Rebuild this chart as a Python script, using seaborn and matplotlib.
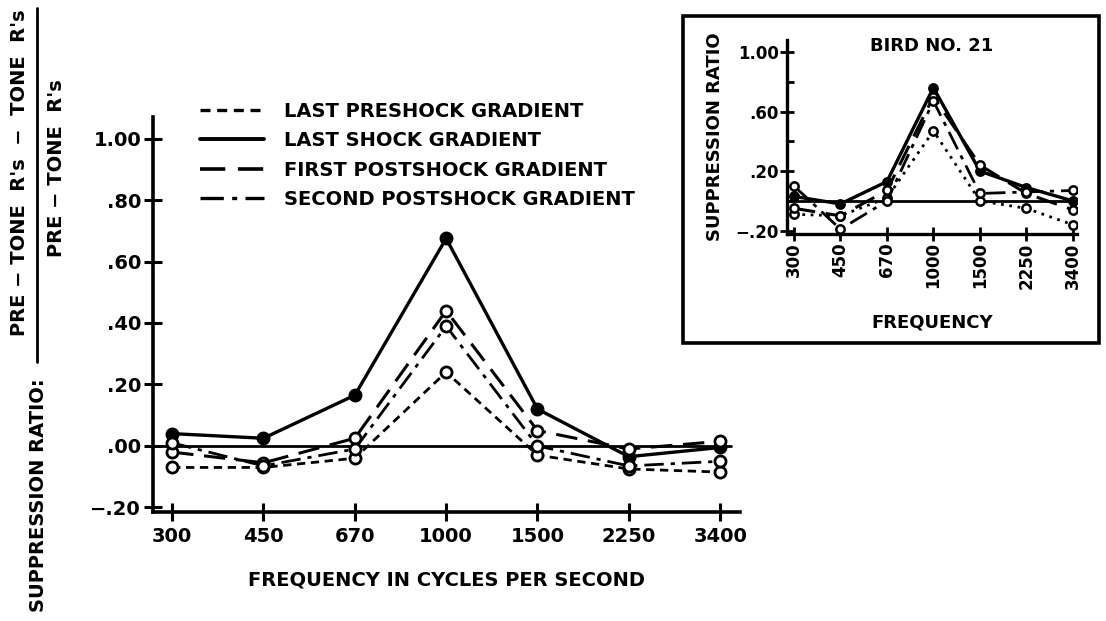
import matplotlib
matplotlib.use('Agg')
import matplotlib.pyplot as plt
from matplotlib.lines import Line2D
from matplotlib.patches import Rectangle
import pandas as pd
import seaborn as sns

# данные
freqs = ['300', '450', '670', '1000', '1500', '2250', '3400']
series = ['LAST PRESHOCK GRADIENT', 'LAST SHOCK GRADIENT',
          'FIRST POSTSHOCK GRADIENT', 'SECOND POSTSHOCK GRADIENT']

# общий график (средние)
pre_main = [-0.07, -0.07, -0.04, 0.24, -0.03, -0.075, -0.085]
shock_main = [0.04, 0.025, 0.165, 0.675, 0.12, -0.035, -0.005]
post1_main = [-0.02, -0.055, 0.025, 0.44, 0.05, -0.01, 0.015]
post2_main = [0.01, -0.065, -0.01, 0.39, 0.0, -0.065, -0.05]

# вставка: птица No. 21
pre_bird = [-0.09, -0.10, 0.02, 0.47, 0.0, -0.05, -0.16]
shock_bird = [0.03, -0.02, 0.13, 0.76, 0.20, 0.09, 0.0]
post1_bird = [-0.05, -0.10, 0.07, 0.70, 0.24, 0.05, -0.06]
post2_bird = [0.10, -0.19, 0.0, 0.67, 0.05, 0.06, 0.07]

main_vals = [pre_main, shock_main, post1_main, post2_main]
bird_vals = [pre_bird, shock_bird, post1_bird, post2_bird]

styles = {
    series[0]: dict(ls=(0, (3, 2)), lw=2.0, fill='white'),
    series[1]: dict(ls='-', lw=2.4, fill='black'),
    series[2]: dict(ls=(0, (7, 3.5)), lw=2.2, fill='white'),
    series[3]: dict(ls=(0, (7, 2.5, 1.5, 2.5)), lw=2.0, fill='white'),
}


def long_df(vals):
    rows = []
    for name, v in zip(series, vals):
        for i, (f, y) in enumerate(zip(freqs, v)):
            rows.append({'series': name, 'pos': i, 'freq': f, 'ratio': y})
    return pd.DataFrame(rows)


df_main = long_df(main_vals)
df_bird = long_df(bird_vals)

sns.set_style('ticks')
plt.rcParams['font.family'] = ['DejaVu Sans']
plt.rcParams['font.weight'] = 'bold'
for key in ['text.color', 'axes.labelcolor', 'xtick.color', 'ytick.color',
            'axes.edgecolor']:
    plt.rcParams[key] = 'black'

fig = plt.figure(figsize=(11.06, 6.21), dpi=100)

# ---- основной график
ax = fig.add_axes([0.1383, 0.1755, 0.531, 0.636])
for name in series:
    st = styles[name]
    sub = df_main[df_main['series'] == name]
    sns.lineplot(data=sub, x='pos', y='ratio', ax=ax, color='black',
                 linestyle=st['ls'], linewidth=st['lw'], marker='o',
                 markersize=8, markerfacecolor=st['fill'],
                 markeredgecolor='black', markeredgewidth=2,
                 legend=False, zorder=3)
ax.axhline(0, color='black', lw=2, xmax=0.985, zorder=2)
ax.set_xlim(-0.21, 6.22)
ax.set_ylim(-0.215, 1.07)
ax.set_xticks(range(len(freqs)))
ax.set_xticklabels(freqs, fontsize=14, fontweight='bold')
yt = [-0.2, 0.0, 0.2, 0.4, 0.6, 0.8, 1.0]
ax.set_yticks(yt)
ax.set_yticklabels(['\u2212.20', '.00', '.20', '.40', '.60', '.80', '1.00'],
                   fontsize=14, fontweight='bold')
ax.tick_params(direction='inout', length=13, width=2.2, pad=2)
ax.tick_params(axis='x', pad=4)
for s in ['top', 'right']:
    ax.spines[s].set_visible(False)
for s in ['left', 'bottom']:
    ax.spines[s].set_linewidth(2.6)
ax.set_xlabel('FREQUENCY IN CYCLES PER SECOND', fontsize=14,
              fontweight='bold', labelpad=18)
ax.set_ylabel('')

handles = [Line2D([], [], color='black', linestyle=styles[n]['ls'],
                  linewidth=styles[n]['lw'] + 0.4) for n in series]
fig.legend(handles, series, loc='upper left',
           bbox_to_anchor=(0.165, 0.864), frameon=False,
           prop={'size': 14, 'weight': 'bold'}, handlelength=3.3,
           handletextpad=1.0, labelspacing=0.53)

# составная подпись оси Y
fig.text(0.035, 0.203, 'SUPPRESSION RATIO:', rotation=90, ha='center',
         va='center', fontsize=14, fontweight='bold')
fig.text(0.018, 0.722, "PRE \u2212 TONE  R's  \u2212  TONE  R's", rotation=90,
         ha='center', va='center', fontsize=14, fontweight='bold')
fig.text(0.051, 0.729, "PRE \u2212 TONE  R's", rotation=90, ha='center',
         va='center', fontsize=14, fontweight='bold')
fig.add_artist(Line2D([0.0335, 0.0335], [1 - 362 / 621, 1 - 8 / 621],
                      color='black', lw=2, transform=fig.transFigure))

# ---- вставка
fig.add_artist(Rectangle((683 / 1106, 1 - 343 / 621), (1099 - 683) / 1106,
                         (343 - 16) / 621, transform=fig.transFigure,
                         fill=False, edgecolor='black', lw=2.6))
axi = fig.add_axes([0.7116, 0.6232, 0.2622, 0.3124])
for name in series:
    st = styles[name]
    sub = df_bird[df_bird['series'] == name]
    ls = (0, (1, 2)) if name == series[0] else st['ls']
    sns.lineplot(data=sub, x='pos', y='ratio', ax=axi, color='black',
                 linestyle=ls, linewidth=st['lw'], marker='o',
                 markersize=6, markerfacecolor=st['fill'],
                 markeredgecolor='black', markeredgewidth=1.8,
                 legend=False, zorder=3)
axi.axhline(0, color='black', lw=2, zorder=2)
axi.set_xlim(-0.15, 6.09)
axi.set_ylim(-0.222, 1.08)
axi.set_xticks(range(len(freqs)))
axi.set_xticklabels(freqs, rotation=90, fontsize=12, fontweight='bold')
axi.set_yticks([-0.2, 0.2, 0.6, 1.0])
axi.set_yticklabels(['\u2212.20', '.20', '.60', '1.00'], fontsize=12,
                    fontweight='bold')
axi.set_yticks([0.0, 0.4, 0.8], minor=True)
axi.tick_params(direction='inout', length=10, width=2, pad=1)
axi.tick_params(axis='y', which='minor', direction='in', length=5, width=2)
for s in ['top', 'right']:
    axi.spines[s].set_visible(False)
for s in ['left', 'bottom']:
    axi.spines[s].set_linewidth(2.4)
axi.set_xlabel('FREQUENCY', fontsize=13, fontweight='bold', labelpad=18)
axi.set_ylabel('SUPPRESSION RATIO', fontsize=13, fontweight='bold',
               labelpad=8)
axi.set_title('BIRD NO. 21', fontsize=13, fontweight='bold', y=0.9)

fig.savefig('out.png', dpi=100)
